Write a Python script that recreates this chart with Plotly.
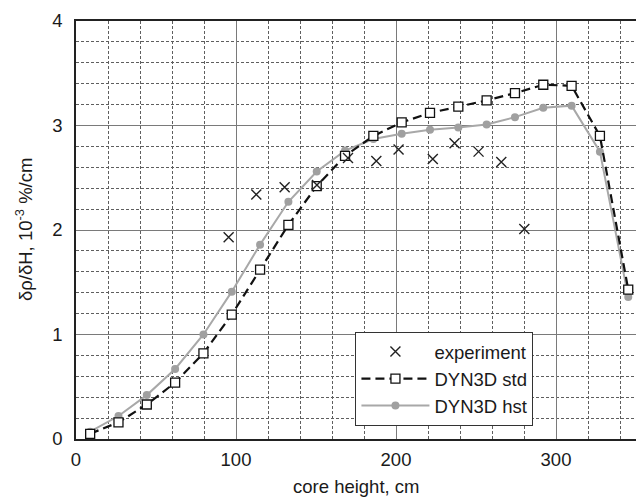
import plotly.graph_objects as go

# Axial positions of the calculation nodes (cm)
node_height = [8.85, 26.55, 44.25, 61.95, 79.65, 97.35, 115.05, 132.75, 150.45, 168.15,
               185.85, 203.55, 221.25, 238.95, 256.65, 274.35, 292.05, 309.75, 327.45, 345.15]

# DYN3D results, 10^-3 %/cm
dyn3d_std = [0.05, 0.16, 0.33, 0.54, 0.82, 1.19, 1.62, 2.05, 2.42, 2.71,
             2.90, 3.03, 3.12, 3.18, 3.24, 3.31, 3.39, 3.38, 2.90, 1.43]
dyn3d_hst = [0.07, 0.22, 0.42, 0.67, 1.00, 1.41, 1.86, 2.27, 2.56, 2.76,
             2.87, 2.92, 2.96, 2.98, 3.01, 3.08, 3.17, 3.19, 2.75, 1.36]

# Measured points
exp_height = [95.4, 112.7, 130.4, 150.6, 170.0, 187.7, 201.6, 223.0, 236.6, 251.6, 265.8, 280.2]
exp_value = [1.93, 2.34, 2.41, 2.43, 2.69, 2.66, 2.77, 2.68, 2.83, 2.75, 2.65, 2.01]

x_ticks = [0, 100, 200, 300]
y_ticks = [0, 1, 2, 3, 4]

FONT = "Liberation Sans, Arial, sans-serif"
FS = 18.5

fig = go.Figure()

# hst first, std over it, experiment on top
fig.add_trace(go.Scatter(
    x=node_height, y=dyn3d_hst, mode="lines+markers", name="DYN3D hst",
    line=dict(color="#a8a8a8", width=2),
    marker=dict(symbol="circle", size=8, color="#a0a0a0"),
))
fig.add_trace(go.Scatter(
    x=node_height, y=dyn3d_std, mode="lines+markers", name="DYN3D std",
    line=dict(color="#111111", width=2.2, dash="9px,5px"),
    marker=dict(symbol="square", size=9, color="white",
                line=dict(color="#111111", width=1.3)),
))
fig.add_trace(go.Scatter(
    x=exp_height, y=exp_value, mode="markers", name="experiment",
    marker=dict(symbol="x-thin", size=10, line=dict(color="#222222", width=1.4)),
))

axis_common = dict(
    showgrid=True, gridcolor="#7a7a7a", gridwidth=1,
    zeroline=False, ticks="", showline=True, linecolor="#222222", linewidth=1.5,
    tickfont=dict(family=FONT, size=FS, color="#1a1a1a"),
)

fig.update_xaxes(
    range=[0, 350], tickvals=x_ticks, mirror=True, ticklabelstandoff=3,
    minor=dict(dtick=20, showgrid=True, gridcolor="#5e5e5e", griddash="3px,2px", gridwidth=1),
    **axis_common,
)
fig.update_yaxes(
    range=[0, 4], tickvals=y_ticks, ticklabelstandoff=8,
    minor=dict(dtick=0.2, showgrid=True, gridcolor="#5e5e5e", griddash="3px,2px", gridwidth=1),
    **axis_common,
)

fig.update_layout(
    width=637, height=504,
    margin=dict(l=76, r=1, t=21, b=64.5),
    paper_bgcolor="white", plot_bgcolor="white",
    font=dict(family=FONT, size=FS, color="#1a1a1a"),
    showlegend=True,
    legend=dict(
        x=0.499, y=0.256, xanchor="left", yanchor="top",
        bgcolor="white", bordercolor="#333333", borderwidth=1,
        font=dict(family=FONT, size=FS, color="#1a1a1a"),
        traceorder="reversed",
        itemwidth=68,
    ),
    annotations=[
        dict(text="core height, cm", xref="paper", yref="paper", x=0.5, y=0,
             yshift=-47, xanchor="center", yanchor="middle", showarrow=False,
             font=dict(family=FONT, size=FS)),
        dict(text="δρ/δH, 10<sup>-3</sup> %/cm", xref="paper", yref="paper",
             x=0, xshift=-52, y=0.5, xanchor="center", yanchor="middle",
             textangle=-90, showarrow=False, font=dict(family=FONT, size=FS)),
    ],
)

fig.write_html("out.html")
